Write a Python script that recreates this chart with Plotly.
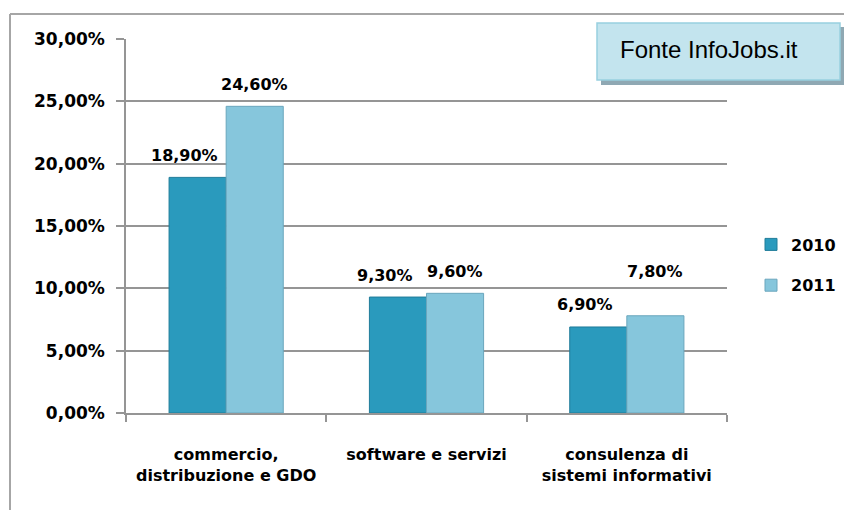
import plotly.graph_objects as go

# ---- data ----
categories = ["commercio,<br>distribuzione e GDO", "software e servizi", "consulenza di<br>sistemi informativi"]
series_names = ["2010", "2011"]
values_2010 = [0.189, 0.093, 0.069]
values_2011 = [0.246, 0.096, 0.078]
y_ticks = [0.0, 0.05, 0.10, 0.15, 0.20, 0.25, 0.30]
source_text = "Fonte InfoJobs.it"

# ---- style ----
W, H = 844, 510
PL, PR, PT, PB = 126, 727, 39, 413
colors = ["#2a9abd", "#86c6dc"]
line_colors = ["#1f7c99", "#6aa6bd"]
grid_col = "#959595"
BOLD = "DejaVu Sans"


def px_x(x):
    return (x - PL) / (PR - PL)


def px_y(y):
    return (PB - y) / (PB - PT)


fig = go.Figure()
for name, vals, c, lc in zip(series_names, [values_2010, values_2011], colors, line_colors):
    fig.add_trace(go.Bar(
        x=categories, y=vals, name=name, legendgroup=name,
        marker=dict(color=c, line=dict(color=lc, width=1)),
    ))

# data labels (annotations anchored on data coordinates)
bar_px = (PR - PL) / len(categories) * (1 - 0.43) / 2
label_dx = [-bar_px / 2 - 13, bar_px / 2]
label_dy = [[22, 22, 22], [22, 22, 44]]
annotations = []
for si, vals in enumerate([values_2010, values_2011]):
    for ci, (cat, v) in enumerate(zip(categories, vals)):
        annotations.append(dict(
            x=cat, y=v, xref="x", yref="y", showarrow=False,
            text=f"{v*100:.2f}%".replace(".", ","),
            xshift=label_dx[si], yshift=label_dy[si][ci],
            yanchor="middle", xanchor="center",
            font=dict(family=BOLD, size=16, color="#000000", weight="bold"),
        ))

# source box text
annotations.append(dict(
    x=px_x(618), y=px_y(49), xref="paper", yref="paper", showarrow=False,
    text=source_text, xanchor="left", yanchor="middle",
    font=dict(family="Liberation Sans", size=24, color="#000000"),
))

shapes = [
    # outer chart border
    dict(type="line", xref="paper", yref="paper", x0=px_x(10), x1=px_x(10), y0=px_y(14), y1=px_y(520),
         line=dict(color="#a6a6a6", width=2), layer="below"),
    dict(type="line", xref="paper", yref="paper", x0=px_x(10), x1=px_x(850), y0=px_y(14), y1=px_y(14),
         line=dict(color="#a6a6a6", width=2), layer="below"),
    # source box shadow
    dict(type="rect", xref="paper", yref="paper", x0=px_x(601), x1=px_x(845), y0=px_y(27), y1=px_y(85),
         fillcolor="#8fa8b3", line=dict(width=0), layer="above"),
    # source box
    dict(type="rect", xref="paper", yref="paper", x0=px_x(597), x1=px_x(840), y0=px_y(23), y1=px_y(80),
         fillcolor="#c3e4ee", line=dict(color="#98cfe0", width=1.5), layer="above"),
]

fig.update_layout(
    width=W, height=H,
    margin=dict(l=PL, r=W - PR, t=PT, b=H - PB, pad=0, autoexpand=False),
    paper_bgcolor="white", plot_bgcolor="white",
    barmode="group", bargap=0.43, bargroupgap=0,
    separators=",.",
    annotations=annotations, shapes=shapes,
    legend=dict(
        x=px_x(751), y=px_y(265), xanchor="left", yanchor="middle",
        font=dict(family=BOLD, size=16, color="#000000", weight="bold"),
        bgcolor="rgba(0,0,0,0)", tracegroupgap=17, itemwidth=30,
    ),
    showlegend=True,
)
fig.update_yaxes(
    range=[0, 0.30], tickvals=y_ticks, tickformat=".2%",
    showgrid=True, gridcolor=grid_col, gridwidth=1.5,
    showline=True, linecolor=grid_col, linewidth=1.5,
    ticks="outside", ticklen=8, tickcolor=grid_col, tickwidth=1.5,
    zeroline=False, ticklabelstandoff=8,
    tickfont=dict(family=BOLD, size=17, color="#000000", weight="bold"),
)
fig.update_xaxes(
    type="category", showline=True, linecolor=grid_col, linewidth=1.5,
    ticks="outside", tickson="boundaries", ticklen=7, tickcolor=grid_col, tickwidth=1.5,
    ticklabelstandoff=26,
    tickfont=dict(family="DejaVu Sans", size=16, color="#000000", weight="bold"),
)

fig.write_html(
    "out.html",
    config={"displayModeBar": False},
    post_script="document.body.style.margin='0';document.body.style.overflow='hidden';",
)
